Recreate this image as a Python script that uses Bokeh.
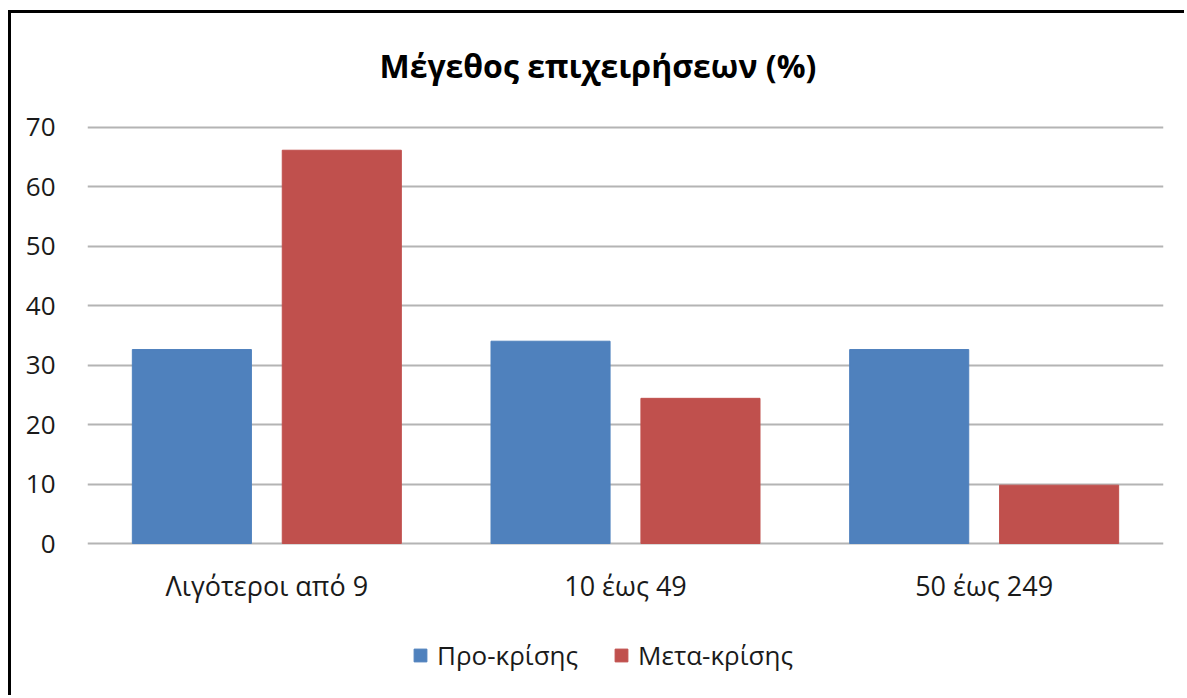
from bokeh.plotting import figure
from bokeh.models import FactorRange, Range1d, Legend, LegendItem, Label, FixedTicker, ColumnDataSource
from bokeh.core.properties import value
from bokeh.transform import dodge
from bokeh.embed import file_html
from bokeh.resources import INLINE

categories = ["Λιγότεροι από 9", "10 έως 49", "50 έως 249"]
pre_crisis = [32.6, 34.0, 32.6]
post_crisis = [66.1, 24.4, 9.8]
series_names = ["Προ-κρίσης", "Μετα-κρίσης"]
y_ticks = [0, 10, 20, 30, 40, 50, 60, 70]
title_text = "Μέγεθος επιχειρήσεων (%)"

FONT = "Open Sans"
BLUE = "#4F81BD"
RED = "#C0504D"
TXT = "#1a1a1a"

src = ColumnDataSource(data=dict(cat=categories, pre=pre_crisis, post=post_crisis))

p = figure(
    width=1176, height=685,
    x_range=FactorRange(factors=categories, range_padding=0, factor_padding=0),
    y_range=Range1d(-26.05, 89.08),
    output_backend="svg", toolbar_location=None,
    min_border_left=76, min_border_right=24, min_border_top=0, min_border_bottom=0,
)
p.styles = {"margin-left": "8px", "margin-top": "10px",
            "border-top": "3px solid black", "border-left": "3px solid black"}
p.outline_line_color = None
p.background_fill_color = "white"
p.border_fill_color = "white"

r1 = p.vbar(x=dodge("cat", -0.209, range=p.x_range), top="pre", bottom=0, width=0.332, source=src,
            fill_color=BLUE, line_color=BLUE)
r2 = p.vbar(x=dodge("cat", 0.209, range=p.x_range), top="post", bottom=0, width=0.332, source=src,
            fill_color=RED, line_color=RED)

p.xaxis.visible = False
p.xgrid.grid_line_color = None
p.ygrid.grid_line_color = "#B4B4B4"
p.ygrid.grid_line_width = 2
p.yaxis.ticker = FixedTicker(ticks=y_ticks)
p.yaxis.axis_line_color = None
p.yaxis.major_tick_line_color = None
p.yaxis.minor_tick_line_color = None
p.yaxis.major_label_text_font = FONT
p.yaxis.major_label_text_font_size = "26px"
p.yaxis.major_label_text_color = TXT
p.yaxis.major_label_standoff = 26

# category labels under the bars (x-axis)
p.text(x=categories, y=-7.06, text=categories, text_align="center", text_baseline="middle",
       text_font=value(FONT), text_font_size="27px", text_color=TXT)

title = Label(x=1.423, y=80.34, text=title_text, text_align="center", text_baseline="middle",
              text_font=FONT, text_font_size="32px", text_font_style="bold", text_color="black")
p.add_layout(title)

legend = Legend(items=[LegendItem(label=series_names[0], renderers=[r1]),
                       LegendItem(label=series_names[1], renderers=[r2])],
                orientation="horizontal", location=(325, 25),
                label_text_font=FONT, label_text_font_size="26px", label_text_color=TXT,
                glyph_width=16, glyph_height=16, label_standoff=9, spacing=35,
                padding=0, margin=0, border_line_color=None, background_fill_alpha=0)
p.add_layout(legend, "center")

open("out.html", "w").write(file_html(p, INLINE))
